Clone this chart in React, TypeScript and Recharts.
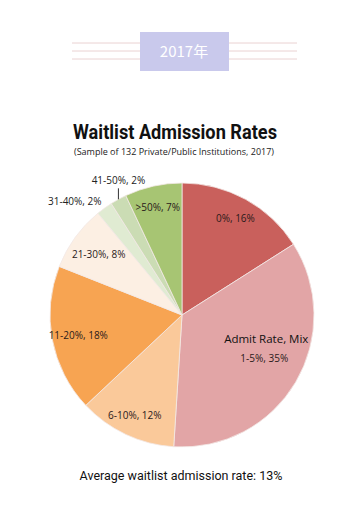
import React from "react";
import { PieChart, Pie, Cell } from "recharts";

const categories = ["0%", "1-5%", "6-10%", "11-20%", "21-30%", "31-40%", "41-50%", ">50%"];
const shares = [16, 35, 12, 18, 8, 2, 2, 7];
const colors = ["#c9605c", "#e2a5a6", "#fac99a", "#f7a452", "#fcefe3", "#e0ebd2", "#cbdcb4", "#a7c573"];

const data = categories.map((name, i) => ({ name, value: shares[i] }));

const RAD = Math.PI / 180;
const labelFont = "'Open Sans', Lato, sans-serif";

function renderLabel(props: any) {
  const { cx, cy, midAngle, outerRadius, index } = props;
  const text = `${categories[index]}, ${shares[index]}%`;
  const at = (r: number) => ({
    x: cx + r * Math.cos(-midAngle * RAD),
    y: cy + r * Math.sin(-midAngle * RAD),
  });

  if (categories[index] === "31-40%") {
    const p = at(outerRadius * 1.05);
    return (
      <text x={p.x + 1} y={p.y + 2} textAnchor="end" fontSize={10} fontFamily={labelFont} fill="#222">
        {text}
      </text>
    );
  }
  if (categories[index] === "41-50%") {
    const p = at(outerRadius);
    return (
      <g>
        <line x1={p.x} y1={p.y} x2={p.x} y2={p.y - 11} stroke="#333" strokeWidth={1} />
        <text x={p.x} y={p.y - 15} textAnchor="middle" fontSize={10} fontFamily={labelFont} fill="#222">
          {text}
        </text>
      </g>
    );
  }
  if (index === 1) {
    const p = at(outerRadius * 0.68);
    return (
      <g>
        <text x={p.x + 7} y={p.y - 18} textAnchor="middle" fontSize={11.5} fontFamily={labelFont} fill="#111">
          Admit Rate, Mix
        </text>
        <text x={p.x + 5} y={p.y + 1} textAnchor="middle" fontSize={10} fontFamily={labelFont} fill="#2a1a1a">
          {text}
        </text>
      </g>
    );
  }
  const r = categories[index] === "11-20%" ? 0.8 : categories[index] === "21-30%" ? 0.78 : 0.84;
  const p = at(outerRadius * r);
  return (
    <text x={p.x} y={p.y + 4} textAnchor="middle" fontSize={10} fontFamily={labelFont} fill="#2a1a1a">
      {text}
    </text>
  );
}

export default function App() {
  return (
    <div style={{ position: "absolute", left: 0, top: 0, width: 362, height: 511, background: "#fff" }}>
      <svg width={362} height={80} style={{ position: "absolute", left: 0, top: 0 }}>
        {[43, 51, 59].map((y) => (
          <line key={y} x1={72} x2={297} y1={y} y2={y} stroke="#ead2d2" strokeWidth={1} />
        ))}
        <rect x={140} y={32} width={89} height={39} fill="#c9c9ec" />
        <text x={184} y={57} textAnchor="middle" fontSize={15} fill="#fff" fontFamily="'Noto Sans CJK SC', sans-serif">
          2017年
        </text>
      </svg>
      <PieChart
        width={362}
        height={511}
        margin={{ top: 0, right: 0, bottom: 0, left: 0 }}
        style={{ position: "absolute", left: 0, top: 0 }}
      >
        <text x={175} y={139} textAnchor="middle" fontSize={20} fontWeight={700} fill="#111"
          fontFamily="Roboto, sans-serif" textLength={204} lengthAdjust="spacingAndGlyphs">
          Waitlist Admission Rates
        </text>
        <text x={174} y={155} textAnchor="middle" fontSize={9} fill="#222" fontFamily={labelFont}
          textLength={200} lengthAdjust="spacingAndGlyphs">
          (Sample of 132 Private/Public Institutions, 2017)
        </text>
        <Pie
          data={data}
          dataKey="value"
          nameKey="name"
          cx={182}
          cy={315}
          outerRadius={132}
          startAngle={90}
          endAngle={-270}
          stroke="#f3e9e6"
          strokeWidth={0.8}
          label={renderLabel}
          labelLine={false}
          isAnimationActive={false}
        >
          {data.map((d, i) => (
            <Cell key={d.name} fill={colors[i]} />
          ))}
        </Pie>
        <text x={181} y={480} textAnchor="middle" fontSize={12.5} fill="#111" fontFamily="Roboto, sans-serif">
          Average waitlist admission rate: 13%
        </text>
      </PieChart>
    </div>
  );
}
